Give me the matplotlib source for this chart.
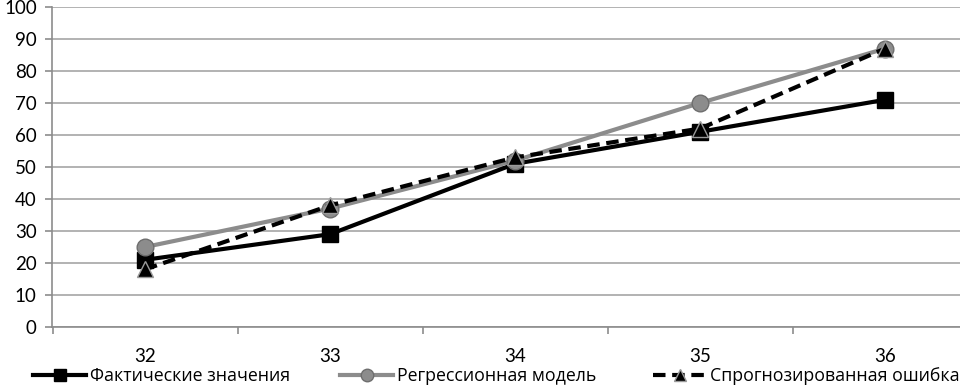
import matplotlib
matplotlib.use("Agg")
import matplotlib.pyplot as plt
from matplotlib.ticker import FixedLocator

# Data
categories = ["32", "33", "34", "35", "36"]
actual = [21, 29, 51, 61, 71]
regression = [25, 37, 52, 70, 87]
forecast = [18, 38, 53, 62, 87]
y_ticks = [0, 10, 20, 30, 40, 50, 60, 70, 80, 90, 100]

plt.rcParams["font.family"] = ["Lato", "Open Sans", "DejaVu Sans"]

W, H = 960, 386
fig = plt.figure(figsize=(W / 100, H / 100), dpi=100)
ax = fig.add_axes([52 / W, 1 - 327 / H, 908 / W, 320 / H])

x = list(range(len(categories)))

l1, = ax.plot(x, actual, color="black", linewidth=3, marker="s", markersize=12,
              markerfacecolor="black", markeredgecolor="black", zorder=3,
              label="Фактические значения")
l2, = ax.plot(x, regression, color="#8c8c8c", linewidth=3, marker="o", markersize=12,
              markerfacecolor="#8c8c8c", markeredgecolor="#6e6e6e", zorder=4,
              label="Регрессионная модель")
l3, = ax.plot(x, forecast, color="black", linewidth=3, linestyle=(0, (3, 1.6)), marker="^",
              markersize=11, markerfacecolor="black", markeredgecolor="#9a9a9a",
              markeredgewidth=1, zorder=5, label="Спрогнозированная ошибка")

ax.set_xlim(-0.503, 4.405)
ax.set_ylim(0, 100)
ax.set_yticks(y_ticks)
ax.yaxis.grid(True, color="#a6a6a6", linewidth=1.2)
ax.set_axisbelow(True)

# category labels centred, tick marks at category boundaries
ax.set_xticks(x)
ax.set_xticklabels(categories)
ax.xaxis.set_minor_locator(FixedLocator([i - 0.5 for i in range(len(categories) + 1)]))
ax.tick_params(axis="x", which="major", length=0, pad=15, labelsize=13.5)
ax.tick_params(axis="x", which="minor", length=5, color="#8c8c8c", width=1.2)
ax.tick_params(axis="y", which="major", length=5, color="#8c8c8c", width=1.2,
               labelsize=13.5, pad=6)

for side in ["top", "right"]:
    ax.spines[side].set_visible(False)
for side in ["left", "bottom"]:
    ax.spines[side].set_color("#8c8c8c")
    ax.spines[side].set_linewidth(1.2)

# one legend per entry, placed like the reference
legend_x = [33, 340, 653]
for handle, lx in zip([l1, l2, l3], legend_x):
    leg = fig.legend(handles=[handle], loc="center left",
                     bbox_to_anchor=(lx / W, 1 - 376 / H), frameon=False,
                     handlelength=3.0, handletextpad=0.2, borderpad=0, borderaxespad=0,
                     markerscale=0.75,
                     prop={"family": ["Open Sans", "DejaVu Sans"], "size": 12.8})

fig.savefig("out.png", dpi=100)
